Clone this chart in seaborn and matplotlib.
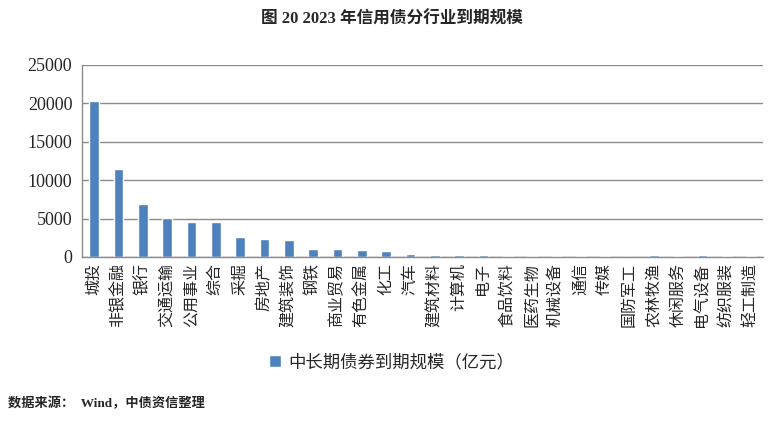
import matplotlib
matplotlib.use("Agg")
import matplotlib.pyplot as plt
import seaborn as sns
import pandas as pd
from matplotlib.ticker import FixedLocator

# Data (亿元)
industries = ["城投", "非银金融", "银行", "交通运输", "公用事业", "综合", "采掘", "房地产",
              "建筑装饰", "钢铁", "商业贸易", "有色金属", "化工", "汽车", "建筑材料", "计算机",
              "电子", "食品饮料", "医药生物", "机械设备", "通信", "传媒", "国防军工", "农林牧渔",
              "休闲服务", "电气设备", "纺织服装", "轻工制造"]
values = [20250, 11400, 6900, 5020, 4580, 4500, 2620, 2400,
          2220, 1050, 1000, 850, 750, 450, 300, 280,
          200, 190, 170, 170, 100, 100, 10, 300,
          180, 200, 80, 80]
yticks = [0, 5000, 10000, 15000, 20000, 25000]

series_name = "中长期债券到期规模（亿元）"
bar_color = "#4F81BD"
grid_color = "#8C8C8C"

sns.set_style("white")
plt.rcParams["font.family"] = ["Liberation Serif", "Noto Sans CJK SC", "DejaVu Sans"]

df = pd.DataFrame({"industry": industries, "value": values})

fig = plt.figure(figsize=(7.83, 4.22), dpi=100)
ax = fig.add_axes([0.1047, 0.391, 0.87, 0.455])

sns.barplot(data=df, x="industry", y="value", color=bar_color, width=0.4,
            saturation=1, ax=ax, label=series_name)
if ax.get_legend() is not None:
    ax.get_legend().remove()

ax.set_xlim(-0.5, len(industries) - 0.5)
ax.set_ylim(0, 25000)
ax.set_yticks(yticks)
ax.set_yticklabels([str(t) for t in yticks], fontsize=13)
ax.yaxis.grid(True, color=grid_color, linewidth=1)
ax.set_axisbelow(True)
ax.set_xlabel("")
ax.set_ylabel("")

for s in ["top", "right"]:
    ax.spines[s].set_visible(False)
for s in ["left", "bottom"]:
    ax.spines[s].set_color(grid_color)
    ax.spines[s].set_linewidth(1)

ax.tick_params(axis="x", which="major", length=0, labelrotation=90, labelsize=11.5, pad=4)
ax.xaxis.set_minor_locator(FixedLocator([i - 0.5 for i in range(len(industries) + 1)]))
ax.tick_params(axis="x", which="minor", length=5, color=grid_color, width=1)
ax.tick_params(axis="y", length=5, color=grid_color, width=1, pad=2)

handles, labels = ax.get_legend_handles_labels()
fig.legend(handles[:1], labels[:1], loc="center", bbox_to_anchor=(0.5, 0.14), frameon=False,
           fontsize=12.5, handlelength=0.7, handleheight=0.7, handletextpad=0.4)

fig.text(0.5, 0.953, "图 20 2023 年信用债分行业到期规模", ha="center", va="center",
         fontsize=12, fontweight="bold")
fig.text(0.01, 0.045, "数据来源：  Wind，中债资信整理", ha="left", va="center",
         fontsize=9.5, fontweight="bold")

fig.savefig("out.png", dpi=100)
